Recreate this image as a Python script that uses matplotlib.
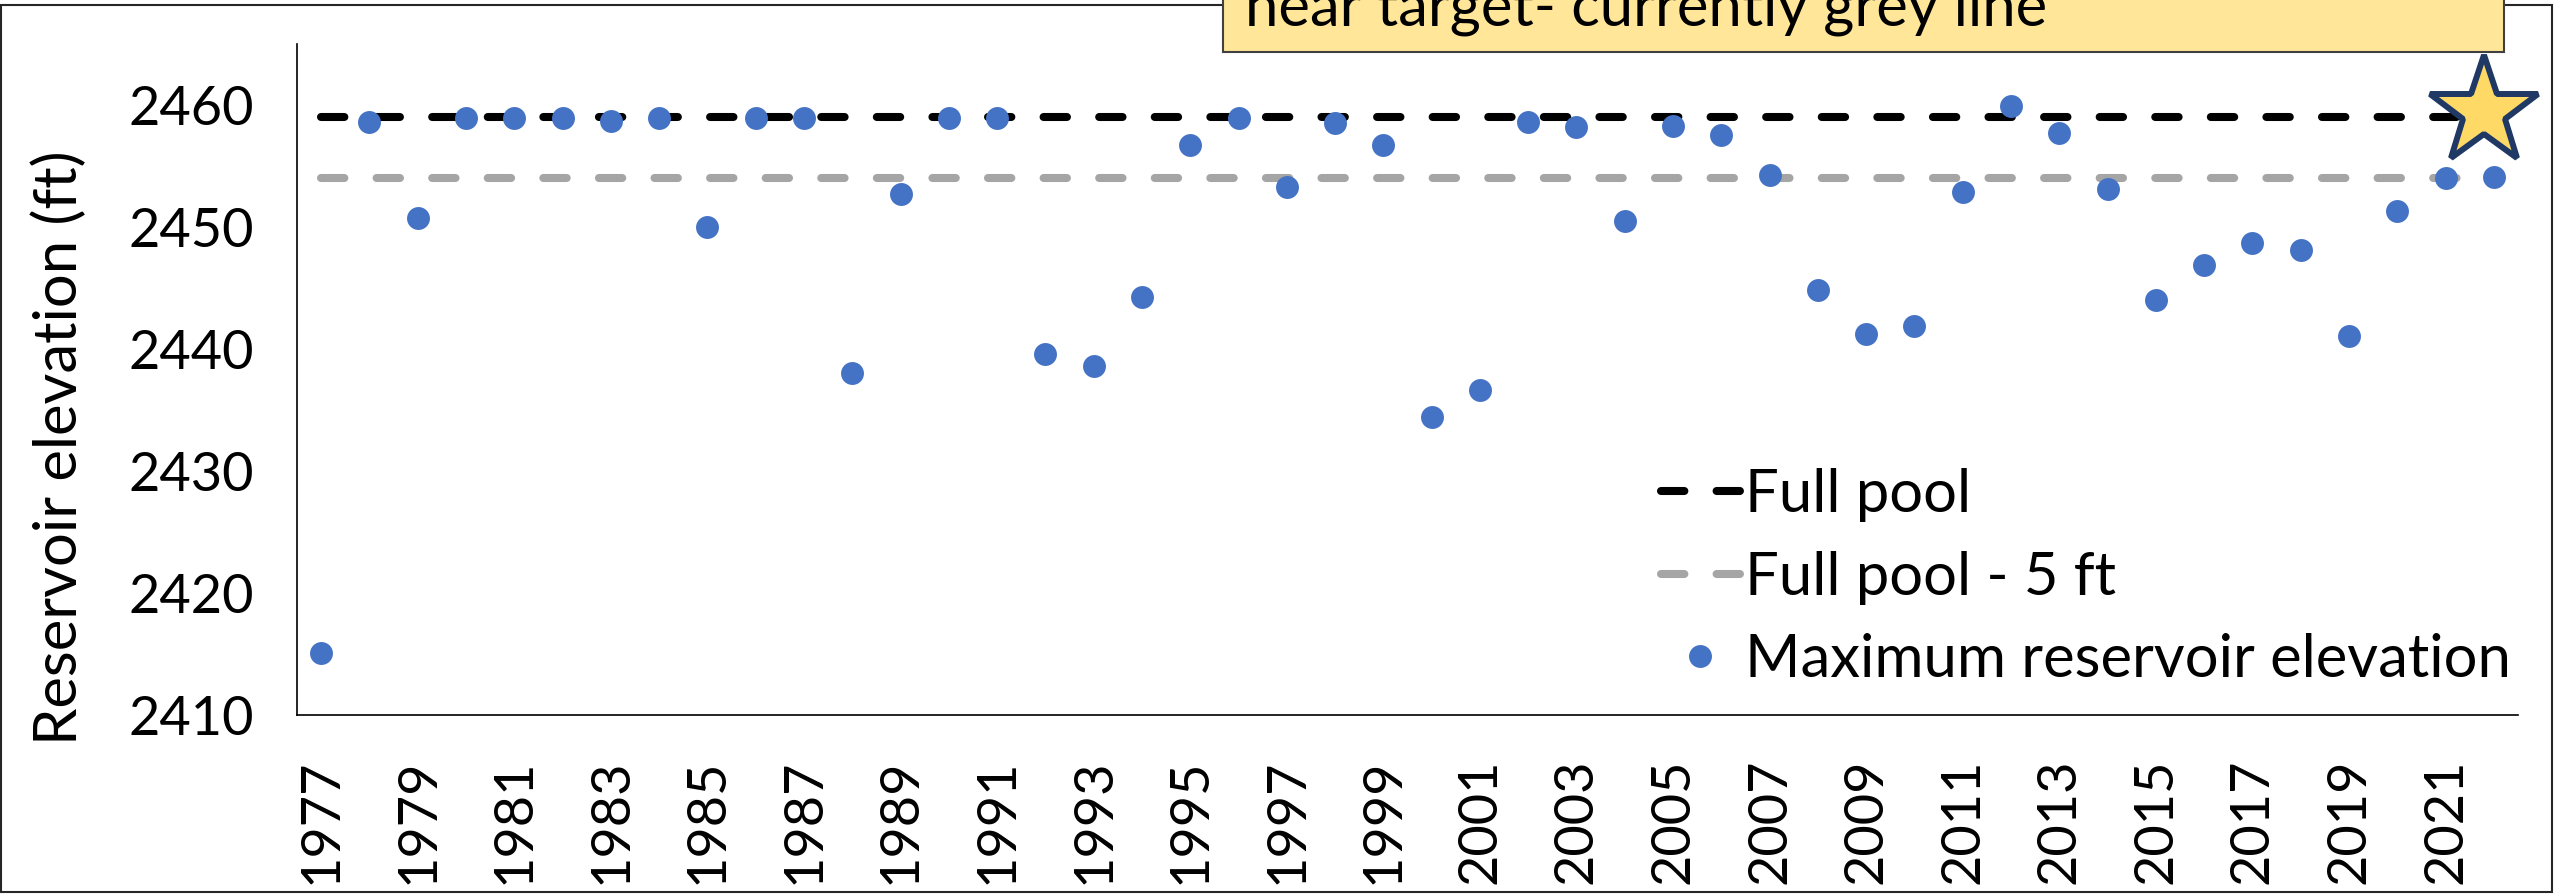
import matplotlib
matplotlib.use('Agg')
import matplotlib.pyplot as plt
from matplotlib.patches import Rectangle

plt.rcParams['font.family'] = ['Lato', 'DejaVu Sans']

# data
years = list(range(1977, 2023))
max_elev = [2415.1, 2458.6, 2450.7, 2458.9, 2458.9, 2458.9, 2458.7, 2458.9, 2450.0, 2458.9,
            2458.9, 2438.0, 2452.7, 2458.9, 2458.9, 2439.6, 2438.6, 2444.3, 2456.7, 2458.9,
            2453.3, 2458.5, 2456.7, 2434.4, 2436.6, 2458.6, 2458.2, 2450.5, 2458.3, 2457.5,
            2454.3, 2444.8, 2441.2, 2441.9, 2452.9, 2459.9, 2457.7, 2453.1, 2444.0, 2446.9,
            2448.7, 2448.1, 2441.1, 2451.3, 2454.0, 2454.1]
full_pool = 2459.0
full_pool_minus5 = full_pool - 5
star_year = 2021.8
star_elev = 2459.4
yticks = [2410, 2420, 2430, 2440, 2450, 2460]
xtick_years = list(range(1977, 2022, 2))
note_text = "near target- currently grey line"

fs = 43
tick_fs = 39

fig = plt.figure(figsize=(25.54, 8.94), dpi=100)
ax = fig.add_axes([297 / 2554, 1 - 715 / 894, (2518 - 297) / 2554, (715 - 44) / 894])

dash = (0, (2.9, 4.0))
l1, = ax.plot(years, [full_pool] * len(years), color='black', lw=5.8,
              linestyle=dash, dash_capstyle='round', label='Full pool', zorder=2)
l2, = ax.plot(years, [full_pool_minus5] * len(years), color='#A5A5A5', lw=5.8,
              linestyle=dash, dash_capstyle='round', label='Full pool - 5 ft', zorder=2)
d, = ax.plot(years, max_elev, linestyle='none', marker='o', ms=16.5, mew=0,
             color='#4472C4', label='Maximum reservoir elevation', zorder=3)
ax.plot([star_year], [star_elev], marker='*', ms=82, mfc='#FFD966', mec='#1F3864',
        mew=4.3, linestyle='none', clip_on=False, zorder=6)

ax.set_xlim(1976.5, 2022.5)
ax.set_ylim(2410, 2465)
ax.set_yticks(yticks)
ax.set_xticks(xtick_years)
ax.set_xticklabels([str(y) for y in xtick_years], rotation=90)
ax.tick_params(length=0, labelsize=tick_fs, pad=31)
for s in ['top', 'right']:
    ax.spines[s].set_visible(False)
for s in ['left', 'bottom']:
    ax.spines[s].set_color('black')
    ax.spines[s].set_linewidth(1.2)

fig.text(77 / 2554, 1 - 448 / 894, 'Reservoir elevation (ft)', rotation=90,
         rotation_mode='anchor', ha='center', va='baseline', fontsize=fs)

ax.legend(handles=[l1, l2, d], loc='upper left', bbox_to_anchor=(1661 / 2554, 1 - 468 / 894),
          bbox_transform=fig.transFigure, frameon=False, fontsize=fs, borderpad=0,
          borderaxespad=0, handlelength=1.32, handletextpad=0.08, labelspacing=0.48,
          numpoints=1)

# outer chart border
fig.patches.append(Rectangle((1 / 2554, 2 / 894), 2551 / 2554, 1 - 7 / 894,
                             transform=fig.transFigure, fill=False, ec='#262626', lw=1.5))
# note box cut off at the top
fig.patches.append(Rectangle((1223 / 2554, 1 - 52 / 894), (2504 - 1223) / 2554, 0.2,
                             transform=fig.transFigure, fc='#FFE699', ec='#404040',
                             lw=1.5, zorder=7))
fig.text(1245 / 2554, 1 - 25 / 894, note_text, fontsize=fs, ha='left', va='baseline',
         zorder=8)

fig.savefig('out.png', dpi=100)
